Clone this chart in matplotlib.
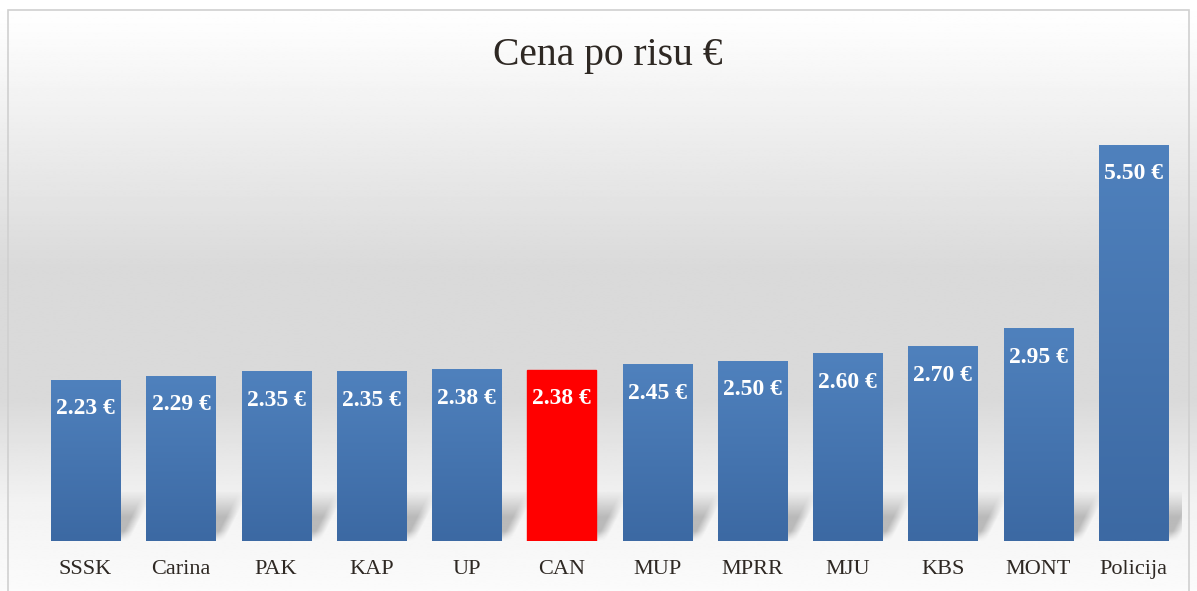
import numpy as np
import matplotlib.pyplot as plt
from matplotlib.patches import Rectangle

# chart data
categories = ['SSSK', 'Carina', 'PAK', 'KAP', 'UP', 'CAN', 'MUP', 'MPRR', 'MJU', 'KBS', 'MONT', 'Policija']
prices = [2.23, 2.29, 2.35, 2.35, 2.38, 2.38, 2.45, 2.50, 2.60, 2.70, 2.95, 5.50]
highlight = 'CAN'

serif = ['Liberation Serif', 'DejaVu Serif']
text_col = '#2e2823'

W, H = 1197, 591
fig = plt.figure(figsize=(W / 100, H / 100), dpi=100)

# background: white -> grey -> white vertical gradient
bg = fig.add_axes([0, 0, 1, 1], zorder=-2)
yy = np.linspace(0, 1, 400)  # 0 = top
grey = np.interp(yy, [0, 0.05, 0.45, 0.68, 0.85, 1.0], [1.0, 0.99, 0.855, 0.855, 0.95, 0.985])
bg.imshow(np.repeat(grey[:, None], 2, axis=1), cmap='gray', vmin=0, vmax=1,
          aspect='auto', extent=(0, 1, 0, 1), interpolation='bilinear')
bg.add_patch(Rectangle((8 / W, -0.01), (1189 - 8) / W, (H - 10) / H + 0.01,
                       fill=False, ec='#d0d0d0', lw=1.2, transform=bg.transAxes))
bg.set_xlim(0, 1)
bg.set_ylim(0, 1)
bg.axis('off')

ax = fig.add_axes([38 / W, 1 - 541 / H, (1181 - 38) / W, 432 / H])
ax.set_facecolor('none')

x = np.arange(len(categories))
bars = ax.bar(x, prices, width=0.725, color='none', zorder=3)

px_x = (1181 - 38) / len(categories)  # pixels per x unit
px_y = 72.0                            # pixels per y unit

# skewed soft shadow behind each bar (pixel grid)
bw = 0.725 * px_x
sw, sh = int(bw + 45), 50
u = np.arange(sw)[None, :] + 0.5
v = np.arange(sh)[::-1, None] + 0.5
shift = 4 + v * 0.5
blur = 10.0
inside = np.clip((u - shift) / blur + 0.5, 0, 1) * np.clip((bw - (u - shift)) / blur + 0.5, 0, 1)
vprof = np.clip(v / 10, 0, 1) * np.clip((sh - v) / 26, 0, 1)
shadow = np.zeros((sh, sw, 4))
shadow[..., :3] = 0.5
shadow[..., 3] = inside * vprof * 0.5
for b in bars:
    x0 = b.get_x()
    ax.imshow(shadow, extent=(x0, x0 + sw / px_x, 0, sh / px_y), aspect='auto',
              interpolation='bilinear', zorder=1)

# bars with vertical gradient
blue = np.array([[0x4f, 0x81, 0xbd], [0x3c, 0x69, 0xa3]]) / 255
for b, cat in zip(bars, categories):
    x0 = b.get_x()
    x1 = x0 + b.get_width()
    h = b.get_height()
    if cat == highlight:
        ax.add_patch(Rectangle((x0, 0), x1 - x0, h, color='#ff0000', zorder=4))
    else:
        t = np.linspace(0, 1, 100)[:, None]
        grad = blue[0] * (1 - t) + blue[1] * t
        ax.imshow(grad[:, None, :], extent=(x0, x1, 0, h), aspect='auto',
                  interpolation='bilinear', zorder=4)
    ax.annotate(f'{h:.2f} €', (x0 + (x1 - x0) / 2, h), xytext=(0, -20.5),
                textcoords='offset points', ha='center', va='center',
                color='white', fontsize=17, fontweight='bold', family=serif, zorder=5)

ax.set_xlim(-0.5, len(categories) - 0.5)
ax.set_ylim(0, 6)
ax.set_xticks(x)
ax.set_xticklabels(categories, family=serif, fontsize=16, color=text_col)
ax.tick_params(axis='x', length=0, pad=14)
ax.set_yticks([])
for s in ax.spines.values():
    s.set_visible(False)

fig.text(608 / W, 1 - 55 / H, 'Cena po risu €', ha='center', va='center',
         fontsize=28.5, family=serif, color=text_col)

fig.savefig('out.png', dpi=100)
